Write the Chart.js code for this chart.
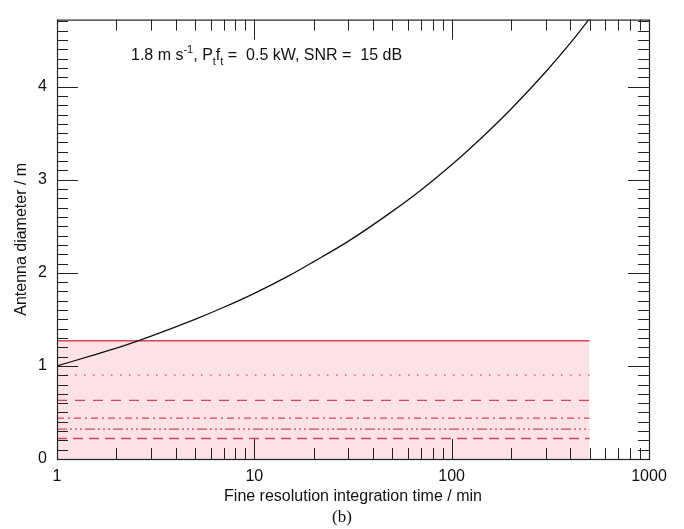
<!DOCTYPE html>
<html>
<head>
<meta charset="utf-8">
<script src="https://cdn.jsdelivr.net/npm/chart.js@4"></script>
<style>
  body { margin: 0; background: #fff; }
</style>
</head>
<body>
<canvas id="myChart" width="684" height="529"></canvas>
<script>
// curve: antenna diameter vs fine resolution integration time
var curveTimes = [1, 1.5, 2, 3, 5, 7, 10, 15, 20, 30, 50, 70, 100, 150, 200, 300, 400, 500];
var curveDiameters = [1.00, 1.11, 1.19, 1.32, 1.50, 1.63, 1.78, 1.97, 2.12, 2.34, 2.66, 2.89, 3.16, 3.50, 3.76, 4.16, 4.47, 4.73];

// horizontal limit lines (red), drawn from t = 1 to t = 500 min
var limitTimes = [1, 500];
var limitValues = [1.27, 0.90, 0.63, 0.44, 0.32, 0.22];
var limitDashes = [[], [1.5, 7.5], [10, 8], [7, 4, 2, 4], [10, 3, 2, 3, 2, 3, 2, 3], [10, 6]];

var xTickValues = [1, 10, 100, 1000];
var yTickValues = [0, 1, 2, 3, 4];

var red = "#d4475a";
var shade = "#fce1e6";

function pairs(xs, ys) {
  return xs.map(function (v, i) { return {x: v, y: ys[i]}; });
}

var datasets = [{
  data: pairs(curveTimes, curveDiameters),
  borderColor: "#111",
  borderWidth: 1.3,
  pointRadius: 0,
  tension: 0.4,
  cubicInterpolationMode: "monotone",
  fill: false
}];

limitValues.forEach(function (v, i) {
  datasets.push({
    data: pairs(limitTimes, [v, v]),
    borderColor: red,
    borderWidth: i === 0 ? 1.5 : 1.3,
    borderDash: limitDashes[i],
    pointRadius: 0,
    fill: i === 0 ? "origin" : false,
    backgroundColor: i === 0 ? shade : "transparent"
  });
});

// ticks inward on all four sides, plus the box and the annotation
var frame = {
  id: "frame",
  afterDatasetsDraw: function (chart) {
    var ctx = chart.ctx, a = chart.chartArea;
    var x = chart.scales.x, y = chart.scales.y;
    ctx.save();
    ctx.strokeStyle = "#222";
    ctx.lineWidth = 1;
    ctx.beginPath();
    // x ticks
    for (var d = 1; d <= 1000; d *= 10) {
      for (var m = 1; m <= 9; m++) {
        var v = d * m;
        if (v > 1000) break;
        var px = Math.round(x.getPixelForValue(v)) + 0.5;
        var len = m === 1 ? 20 : 11;
        ctx.moveTo(px, a.bottom); ctx.lineTo(px, a.bottom - len);
        ctx.moveTo(px, a.top); ctx.lineTo(px, a.top + len);
      }
    }
    // y ticks
    for (var k = 0; k <= 47; k++) {
      var val = k / 10;
      if (val > y.max) break;
      var py = Math.round(y.getPixelForValue(val)) + 0.5;
      var l = k % 10 === 0 ? 21 : 11;
      ctx.moveTo(a.left, py); ctx.lineTo(a.left + l, py);
      ctx.moveTo(a.right, py); ctx.lineTo(a.right - l, py);
    }
    ctx.stroke();
    ctx.lineWidth = 1.2;
    ctx.strokeRect(a.left + 0.5, a.top + 0.5, a.right - a.left, a.bottom - a.top);
    ctx.restore();
  },
  afterDraw: function (chart) {
    var ctx = chart.ctx;
    ctx.save();
    ctx.fillStyle = "#111";
    ctx.textBaseline = "alphabetic";
    var parts = [
      {t: "1.8 m s"}, {t: "-1", s: -7}, {t: ", P"}, {t: "t", s: 5},
      {t: "f"}, {t: "t", s: 5}, {t: " =  0.5 kW, SNR =  15 dB"}
    ];
    var cx = 131, base = 60;
    parts.forEach(function (p) {
      ctx.font = (p.s ? "11px" : "16px") + " 'Liberation Sans', Arial, sans-serif";
      ctx.fillText(p.t, cx, base + (p.s || 0));
      cx += ctx.measureText(p.t).width;
    });
    ctx.font = "17px 'Liberation Serif', 'Times New Roman', serif";
    ctx.textAlign = "center";
    ctx.fillText("(b)", 342, 522);
    ctx.restore();
  }
};

new Chart("myChart", {
  type: "line",
  data: {datasets: datasets},
  plugins: [frame],
  options: {
    responsive: false,
    animation: false,
    layout: {padding: {top: 15, right: 35, bottom: 0, left: 0}},
    plugins: {
      legend: {display: false},
      tooltip: {enabled: false},
      filler: {drawTime: "beforeDatasetsDraw"}
    },
    scales: {
      x: {
        type: "logarithmic",
        min: 1,
        max: 1000,
        grid: {display: false, drawTicks: false},
        border: {display: false},
        afterBuildTicks: function (s) { s.ticks = xTickValues.map(function (v) { return {value: v}; }); },
        afterFit: function (s) { s.height = 70; },
        ticks: {
          color: "#111",
          padding: 8,
          maxRotation: 0,
          autoSkip: false,
          font: {family: "'Liberation Sans', Arial, sans-serif", size: 16},
          callback: function (v) { return String(v); }
        },
        title: {
          display: true,
          text: "Fine resolution integration time / min",
          color: "#111",
          font: {family: "'Liberation Sans', Arial, sans-serif", size: 16},
          padding: {top: 0, bottom: 23}
        }
      },
      y: {
        type: "linear",
        min: 0,
        max: 4.72,
        grid: {display: false, drawTicks: false},
        border: {display: false},
        afterBuildTicks: function (s) { s.ticks = yTickValues.map(function (v) { return {value: v}; }); },
        afterFit: function (s) { s.width = 57; },
        ticks: {
          color: "#111",
          padding: 10,
          font: {family: "'Liberation Sans', Arial, sans-serif", size: 16}
        },
        title: {
          display: true,
          text: "Antenna diameter / m",
          color: "#111",
          font: {family: "'Liberation Sans', Arial, sans-serif", size: 16},
          padding: {top: 12, bottom: 0}
        }
      }
    }
  }
});
</script>
</body>
</html>
